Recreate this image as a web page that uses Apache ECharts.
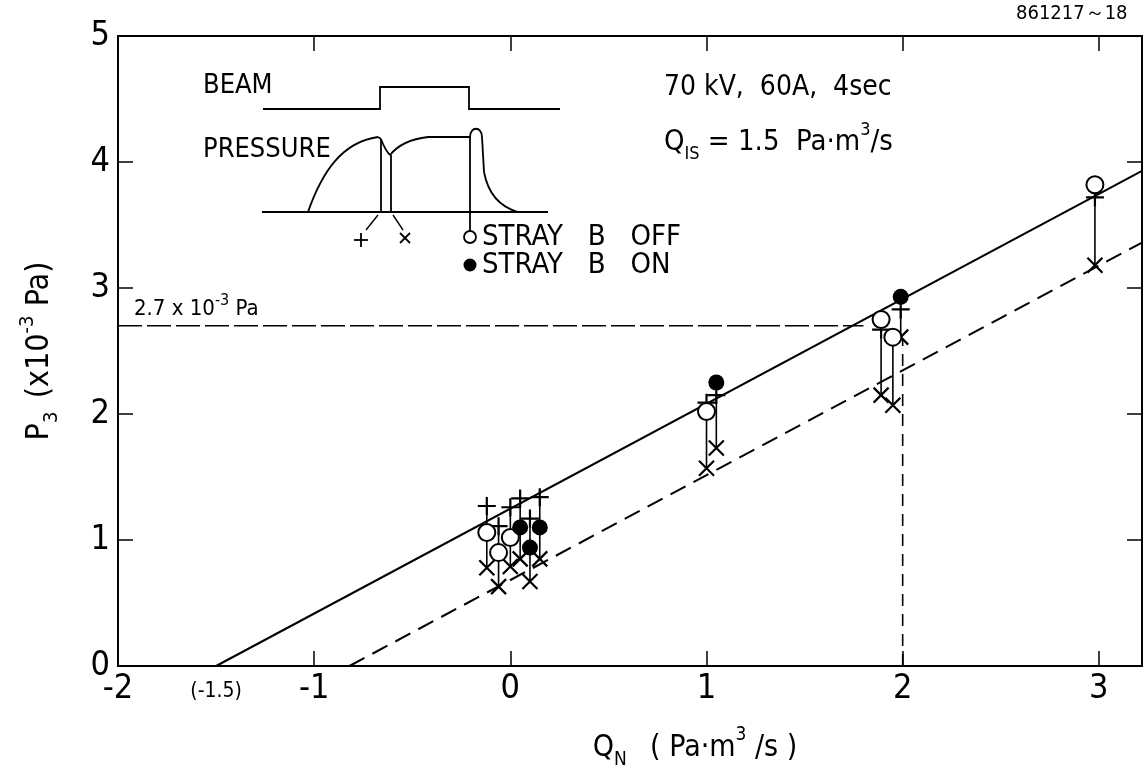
<!DOCTYPE html>
<html>
<head>
<meta charset="utf-8">
<script src="https://cdn.jsdelivr.net/npm/echarts@6/dist/echarts.min.js"></script>
<style>
html,body{margin:0;padding:0;background:#fff;}
#chart{width:1148px;height:778px;}
</style>
</head>
<body>
<div id="chart"></div>
<script>
// ---- data ----
const xTicks = [-2, -1, 0, 1, 2, 3];
const yTicks = [0, 1, 2, 3, 4, 5];
const xInterceptLabel = -1.5;           // "(-1.5)"
// Q_N (Pa·m3/s) for each measurement
const qn      = [-0.12, -0.06, 0.00, 0.05, 0.10, 0.15, 1.00, 1.05, 1.89, 1.95, 1.99, 2.98];
// "+" : pressure at beam start
const pPlus   = [1.27, 1.11, 1.26, 1.33, 1.17, 1.34, 2.09, 2.15, 2.67, null, 2.83, 3.72];
// "o"/"•" : pressure at end of beam
const pEnd    = [1.06, 0.90, 1.02, 1.10, 0.94, 1.10, 2.02, 2.25, 2.75, 2.61, 2.93, 3.82];
// "x" : pressure after the dip
const pCross  = [0.78, 0.63, 0.79, 0.85, 0.67, 0.85, 1.57, 1.73, 2.15, 2.07, 2.61, 3.18];
// stray field on (filled) / off (open)
const strayOn = [false, false, false, true, true, true, false, true, false, false, true, false];
// fitted lines
const fitSolid  = [[-1.5, 0], [3.22, 3.93]];
const fitDashed = [[-0.82, 0], [3.22, 3.36]];
const refLevel  = 2.7;
const refH = [[-2, refLevel], [1.8, refLevel]];
const refV = [[2, 0], [2, 2.6]];

const FONT = "'Liberation Sans Narrow','DejaVu Sans Condensed','Roboto Condensed','Liberation Sans',sans-serif";

const offPts = [], onPts = [], plusPts = [], crossPts = [], stems = [];
qn.forEach((x, i) => {
  (strayOn[i] ? onPts : offPts).push([x, pEnd[i]]);
  if (pPlus[i] != null) plusPts.push([x, pPlus[i]]);
  crossPts.push([x, pCross[i]]);
  stems.push([x, pPlus[i] != null ? pPlus[i] : pEnd[i], pCross[i]]);
});

const chart = echarts.init(document.getElementById('chart'));
const axisLine = {show: true, onZero: false, lineStyle: {color: '#000', width: 2}};
const tick = {show: true, inside: true, length: 15, lineStyle: {color: '#000', width: 1.5}};
const subRich = (size, big) => ({
  m: {fontSize: big, fontFamily: FONT, color: '#000', lineHeight: 44},
  sub: {fontSize: size, fontFamily: FONT, color: '#000', verticalAlign: 'bottom', lineHeight: 44, padding: [16, 0, 0, 0]},
  sup: {fontSize: size, fontFamily: FONT, color: '#000', verticalAlign: 'top', lineHeight: 44}
});

const option = {
  animation: false,
  backgroundColor: '#fff',
  grid: {left: 118, right: 6, top: 36, bottom: 112},
  xAxis: [{
    type: 'value', min: -2, max: 3.22, interval: 1,
    axisLine, axisTick: tick, splitLine: {show: false},
    axisLabel: {
      customValues: [xTicks[0], xInterceptLabel].concat(xTicks.slice(1)),
      formatter: v => v === xInterceptLabel ? '{s|(' + v + ')}' : String(v),
      color: '#000', fontSize: 34, fontFamily: FONT, margin: 6,
      rich: {s: {fontSize: 21, fontFamily: FONT, color: '#000', padding: [9, 0, 0, 0]}}
    },
    name: '{m|Q}{sub|N}       {m|( Pa·m}{sup|3}{m| /s )}',
    nameLocation: 'middle', nameGap: 60,
    nameTextStyle: {padding: [0, 0, 0, 130], rich: subRich(19, 30)}
  }, {
    type: 'value', position: 'top', min: -2, max: 3.22, interval: 1,
    axisLine, axisTick: tick, axisLabel: {show: false}, splitLine: {show: false}
  }],
  yAxis: [{
    type: 'value', min: yTicks[0], max: yTicks[yTicks.length - 1], interval: 1,
    axisLine, axisTick: tick, splitLine: {show: false},
    axisLabel: {color: '#000', fontSize: 34, fontFamily: FONT, margin: 8},
    name: '{m|P}{sub|3}    {m|(x10}{sup|-3}{m| Pa)}',
    nameLocation: 'middle', nameRotate: 90, nameGap: 56,
    nameTextStyle: {rich: subRich(20, 32)}
  }, {
    type: 'value', position: 'right', min: 0, max: 5, interval: 1,
    axisLine, axisTick: tick, axisLabel: {show: false}, splitLine: {show: false}
  }],
  series: [
    {type: 'line', data: fitSolid, symbol: 'none', lineStyle: {color: '#000', width: 2}, silent: true},
    {type: 'line', data: fitDashed, symbol: 'none', lineStyle: {color: '#000', width: 2, type: [17, 9]}, silent: true},
    {type: 'line', data: refH, symbol: 'none', lineStyle: {color: '#000', width: 1.6, type: [24, 5]}, silent: true},
    {type: 'line', data: refV, symbol: 'none', lineStyle: {color: '#000', width: 1.6, type: [12, 8]}, silent: true},
    {
      type: 'custom', data: stems, encode: {x: 0, y: [1, 2]}, silent: true,
      renderItem: (params, api) => {
        const a = api.coord([api.value(0), api.value(1)]);
        const b = api.coord([api.value(0), api.value(2)]);
        return {type: 'line', shape: {x1: a[0], y1: a[1], x2: b[0], y2: b[1]}, style: {stroke: '#000', lineWidth: 1.6}};
      }
    },
    {type: 'scatter', data: plusPts, symbol: 'path://M0,-1L0,1M-1,0L1,0', symbolSize: 18,
     itemStyle: {color: 'none', borderColor: '#000', borderWidth: 2.2, opacity: 1}, silent: true},
    {type: 'scatter', data: crossPts, symbol: 'path://M-1,-1L1,1M-1,1L1,-1', symbolSize: 15,
     itemStyle: {color: 'none', borderColor: '#000', borderWidth: 2.2, opacity: 1}, silent: true},
    {type: 'scatter', data: offPts, symbol: 'circle', symbolSize: 17,
     itemStyle: {color: '#fff', borderColor: '#000', borderWidth: 2, opacity: 1}, silent: true, z: 5},
    {type: 'scatter', data: onPts, symbol: 'circle', symbolSize: 16,
     itemStyle: {color: '#000', opacity: 1}, silent: true, z: 5}
  ]
};
chart.setOption(option);

// ---- annotation texts and the schematic inset ----
const S = {stroke: '#000', fill: 'none', lineWidth: 1.8};
const txt = (x, y, text, size) => ({
  type: 'text', x, y, silent: true,
  style: {text, fill: '#000', font: size + 'px ' + FONT, verticalAlign: 'middle'}
});
const ln = (pts, w) => ({type: 'polyline', silent: true, shape: {points: pts}, style: Object.assign({}, S, {lineWidth: w || 1.8})});
const bz = (x1, y1, cpx1, cpy1, cpx2, cpy2, x2, y2) => {
  const shape = {x1, y1, x2, y2, cpx1, cpy1};
  if (cpx2 != null) { shape.cpx2 = cpx2; shape.cpy2 = cpy2; }
  return {type: 'bezierCurve', silent: true, shape, style: Object.assign({}, S)};
};

const refPix = chart.convertToPixel({xAxisIndex: 0, yAxisIndex: 0}, [-2, refLevel]);

const graphics = [
  txt(1016, 14, '861217～18', 20),
  txt(664, 88, '70 kV,  60A,  4sec', 28),
  {type: 'text', x: 664, y: 142, silent: true, style: {
    rich: {
      a: {font: '29px ' + FONT, fill: '#000', lineHeight: 42},
      s: {font: '18px ' + FONT, fill: '#000', lineHeight: 42, verticalAlign: 'bottom', padding: [16, 0, 0, 0]},
      u: {font: '18px ' + FONT, fill: '#000', lineHeight: 42, verticalAlign: 'top'}
    },
    text: '{a|Q}{s|IS}{a| = 1.5  Pa·m}{u|3}{a|/s}', verticalAlign: 'middle'
  }},
  {type: 'text', x: refPix[0] + 16, y: refPix[1] - 17, silent: true, style: {
    rich: {
      a: {font: '22px ' + FONT, fill: '#000', lineHeight: 32},
      u: {font: '16px ' + FONT, fill: '#000', lineHeight: 32, verticalAlign: 'top'}
    },
    text: '{a|2.7 x 10}{u|-3}{a| Pa}', verticalAlign: 'middle'
  }},
  // schematic inset
  txt(203, 86, 'BEAM', 27),
  ln([[263, 109], [380, 109], [380, 87], [469, 87], [469, 109], [560, 109]]),
  txt(203, 150, 'PRESSURE', 27),
  ln([[262, 212], [548, 212]]),
  bz(308, 212, 322, 172, 342, 142, 378, 137),
  ln([[378, 137], [381, 139]]),
  bz(381, 139, 385, 150, null, null, 390, 155),
  bz(390, 155, 402, 140, null, null, 428, 137),
  ln([[428, 137], [470, 137]]),
  bz(470, 137, 470, 126, 482, 126, 482, 137),
  ln([[482, 137], [484, 172]]),
  bz(484, 172, 490, 204, null, null, 518, 212),
  ln([[381, 139], [381, 212]]),
  ln([[391, 155], [391, 212]]),
  ln([[470, 137], [470, 231]]),
  ln([[378, 215], [366, 230]], 1.4),
  ln([[393, 215], [403, 230]], 1.4),
  ln([[361, 233], [361, 247]]), ln([[354, 240], [368, 240]]),
  ln([[400, 233], [410, 243]]), ln([[400, 243], [410, 233]]),
  {type: 'circle', silent: true, shape: {cx: 470, cy: 237, r: 6}, style: {stroke: '#000', fill: '#fff', lineWidth: 1.8}},
  {type: 'circle', silent: true, shape: {cx: 470, cy: 265, r: 6.5}, style: {fill: '#000'}},
  txt(482, 237, 'STRAY   B   OFF', 29),
  txt(482, 265, 'STRAY   B   ON', 29)
];
chart.setOption({graphic: graphics});
</script>
</body>
</html>
